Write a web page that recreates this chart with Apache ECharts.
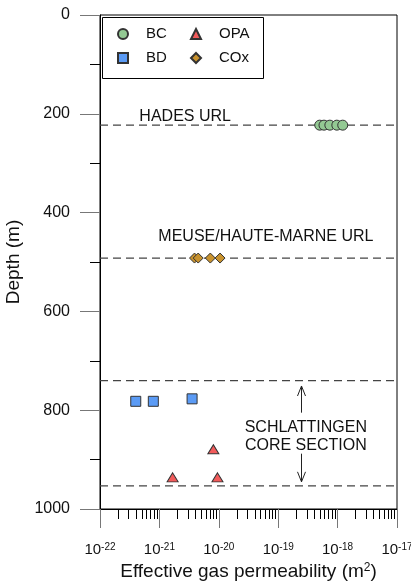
<!DOCTYPE html>
<html>
<head>
<meta charset="utf-8">
<script src="https://cdn.jsdelivr.net/npm/echarts@6/dist/echarts.min.js"></script>
<style>
	html, body { margin: 0; padding: 0; background: #fff; }
	#chart { width: 411px; height: 581px; }
</style>
</head>
<body>
<div id="chart"></div>
<script>
// measured values (permeability in m2, depth in m)
const bcPerm = [5.0e-19, 5.9e-19, 7.4e-19, 9.7e-19, 1.22e-18];
const bcDepth = [223, 223, 223, 223, 223];
const bdPerm = [4.0e-22, 7.9e-22, 3.55e-21];
const bdDepth = [782, 782, 777];
const opaPerm = [8.1e-21, 1.67e-21, 9.5e-21];
const opaDepth = [879, 936, 936];
const coxPerm = [3.9e-21, 4.5e-21, 7.2e-21, 1.05e-20];
const coxDepth = [492, 492, 492, 492];

// horizontal reference levels
const levelDepths = [223, 492, 740, 953];

// annotations
const noteTexts = ['HADES URL', 'MEUSE/HAUTE-MARNE URL', 'SCHLATTINGEN\nCORE SECTION'];
const notePerm = [4.6e-22, 9.6e-22, 2.92e-19];
const noteDepth = [205, 449, 854];
const noteAlign = ['left', 'left', 'center'];

// core section arrows: [perm, start depth, tip depth]
const arrowPerm = [2.4e-19, 2.4e-19];
const arrowFrom = [805, 888];
const arrowTo = [751, 945];

const xMin = 1e-22, xMax = 1e-17;
const yMin = 0, yMax = 1000;
const font = 'Liberation Sans, Arial, sans-serif';

// the x axis runs on decimal exponents (the log axis of echarts rounds 1e-22 to 0)
function lg(v) { return Math.log10(v); }
function pairs(xs, ys) {
	return xs.map(function (x, i) { return [lg(x), ys[i]]; });
}

// minor log ticks 2..9 within each decade, sitting on the bottom axis
var minorTicks = [];
for (var e = -22; e < -17; e++) {
	for (var k = 2; k <= 9; k++) {
		minorTicks.push([lg(k * Math.pow(10, e)), yMax]);
	}
}

var dom = document.getElementById('chart');
var myChart = echarts.init(dom, null, { renderer: 'canvas' });

var markerStyle = function (color) {
	return { color: color, borderColor: '#333', borderWidth: 1, opacity: 1 };
};
var supStyle = { fontFamily: font, fontSize: 10, verticalAlign: 'top', color: '#111' };

var series = [];

levelDepths.forEach(function (d) {
	series.push({
		type: 'line',
		data: [[lg(xMin), d], [lg(xMax), d]],
		symbol: 'none',
		silent: true,
		z: 1,
		lineStyle: { color: '#444', width: 1.3, type: [8, 5] }
	});
});

series.push(
	{ name: 'BC', type: 'scatter', symbol: 'circle', symbolSize: 10, z: 5,
		itemStyle: markerStyle('#93c993'), data: pairs(bcPerm, bcDepth) },
	{ name: 'BD', type: 'scatter', symbol: 'rect', symbolSize: 10, z: 5,
		itemStyle: markerStyle('#5b9bf5'), data: pairs(bdPerm, bdDepth) },
	{ name: 'OPA', type: 'scatter', symbol: 'triangle', symbolSize: [11, 9], z: 5,
		itemStyle: markerStyle('#f25b5b'), data: pairs(opaPerm, opaDepth) },
	{ name: 'COx', type: 'scatter', symbol: 'diamond', symbolSize: 10, z: 5,
		itemStyle: markerStyle('#c8922e'), data: pairs(coxPerm, coxDepth) }
);

// text annotations
series.push({
	type: 'scatter',
	symbolSize: 0,
	silent: true,
	z: 6,
	data: noteTexts.map(function (t, i) {
		return {
			value: [lg(notePerm[i]), noteDepth[i]],
			label: {
				show: true,
				formatter: t,
				position: 'inside',
				align: noteAlign[i],
				verticalAlign: 'middle',
				fontFamily: font,
				fontSize: 16,
				lineHeight: 18,
				color: '#111',
				textBorderWidth: 0,
				opacity: 1
			}
		};
	})
});

// arrows with open heads
series.push({
	type: 'custom',
	silent: true,
	clip: false,
	z: 6,
	data: arrowPerm.map(function (p, i) { return [lg(p), arrowFrom[i], arrowTo[i]]; }),
	renderItem: function (params, api) {
		var a = api.coord([api.value(0), api.value(1)]);
		var b = api.coord([api.value(0), api.value(2)]);
		var dir = b[1] > a[1] ? 1 : -1;
		var x = Math.round(b[0]) + 0.5;
		var style = { stroke: '#222', lineWidth: 1, fill: null };
		return {
			type: 'group',
			children: [
				{ type: 'line', shape: { x1: x, y1: a[1], x2: x, y2: b[1] }, style: style },
				{ type: 'polyline', shape: { points: [[x - 4, b[1] - dir * 10], [x, b[1]], [x + 4, b[1] - dir * 10]] }, style: style }
			]
		};
	}
});

// minor ticks on the log axis
series.push({
	type: 'custom',
	silent: true,
	clip: false,
	z: 3,
	data: minorTicks,
	renderItem: function (params, api) {
		var p = api.coord([api.value(0), api.value(1)]);
		var x = Math.round(p[0]) + 0.5;
		return {
			type: 'line',
			shape: { x1: x, y1: p[1], x2: x, y2: p[1] + 10 },
			style: { stroke: '#000', lineWidth: 1 }
		};
	}
});

var legendBase = {
	orient: 'vertical',
	top: 26,
	padding: 0,
	itemGap: 8,
	itemWidth: 10,
	itemHeight: 10,
	selectedMode: false,
	textStyle: { fontFamily: font, fontSize: 15, color: '#111', lineHeight: 16, padding: [0, 0, 0, 13] }
};

var option = {
	animation: false,
	backgroundColor: '#fff',
	grid: {
		left: 100,
		top: 15,
		right: 14,
		bottom: 72,
		containLabel: false,
		outerBoundsMode: 'none',
		show: true,
		borderColor: '#000',
		borderWidth: 1
	},
	legend: [
		Object.assign({}, legendBase, { left: 117, data: ['BC', 'BD'] }),
		Object.assign({}, legendBase, { left: 190, data: ['OPA', 'COx'] })
	],
	graphic: [{
		type: 'rect',
		left: 100,
		top: 15,
		shape: { width: 161, height: 61 },
		style: { fill: null, stroke: '#000', lineWidth: 1 },
		z: 10
	}],
	xAxis: {
		type: 'value',
		min: lg(xMin),
		max: lg(xMax),
		interval: 1,
		name: 'Effective gas permeability (m{sup|2})',
		nameLocation: 'middle',
		nameGap: 50,
		nameTextStyle: {
			fontFamily: font,
			fontSize: 19,
			color: '#111',
			rich: { sup: { fontFamily: font, fontSize: 12, verticalAlign: 'top', color: '#111' } }
		},
		axisLine: { onZero: false, lineStyle: { color: '#000', width: 1 } },
		axisTick: { length: 19, lineStyle: { color: '#777' } },
		splitLine: { show: false },
		axisLabel: {
			margin: 33,
			fontFamily: font,
			fontSize: 15,
			color: '#111',
			formatter: function (v) {
				return '10{sup|' + Math.round(v) + '}';
			},
			rich: { sup: supStyle }
		}
	},
	yAxis: {
		type: 'value',
		inverse: true,
		min: yMin,
		max: yMax,
		interval: 200,
		name: 'Depth (m)',
		nameLocation: 'middle',
		nameGap: 71,
		nameTextStyle: { fontFamily: font, fontSize: 19, color: '#111' },
		axisLine: { onZero: false, lineStyle: { color: '#000', width: 1 } },
		axisTick: { length: 20, lineStyle: { color: '#777' } },
		minorTick: { show: true, splitNumber: 2, length: 10, lineStyle: { color: '#000' } },
		splitLine: { show: false },
		minorSplitLine: { show: false },
		axisLabel: {
			margin: 30,
			fontFamily: font,
			fontSize: 16,
			color: '#111',
			formatter: function (v) { return String(v); }
		}
	},
	series: series
};

myChart.setOption(option);
window.addEventListener('resize', myChart.resize);
</script>
</body>
</html>
